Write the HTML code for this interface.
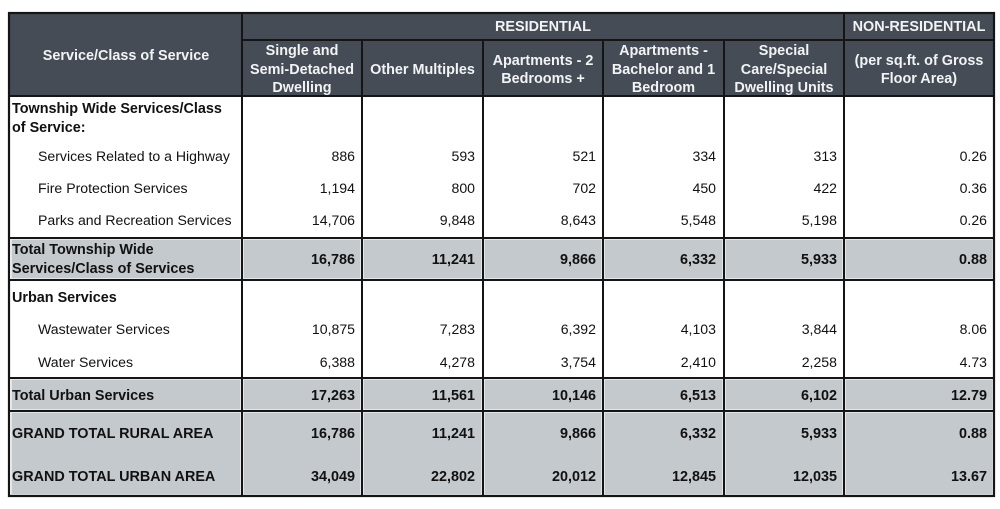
<!DOCTYPE html>
<html><head><meta charset="utf-8">
<style>
html,body{margin:0;padding:0;background:#fff;}
svg{display:block;}
text{font-family:"Liberation Sans",Arial,sans-serif;font-size:14.1px;}
.h{fill:#f2f3f5;font-weight:bold;text-anchor:middle;font-size:14.4px;}
.b{fill:#111;font-weight:bold;font-size:14.4px;}
.n{fill:#111;text-anchor:end;}
.nb{fill:#111;text-anchor:end;font-weight:bold;font-size:14.4px;}
.t{fill:#111;}
</style></head>
<body>
<svg width="1000" height="509" viewBox="0 0 1000 509" xmlns="http://www.w3.org/2000/svg">
<rect x="0" y="0" width="1000" height="509" fill="#fff"/>
<rect x="9" y="13" width="985" height="83" fill="#454c56"/>
<g fill="#c4c9ce" stroke="#e4e7ea" stroke-width="1">
<rect x="11.5" y="239.5" width="229" height="39"/>
<rect x="243.5" y="239.5" width="117" height="39"/>
<rect x="363.5" y="239.5" width="118" height="39"/>
<rect x="484.5" y="239.5" width="117" height="39"/>
<rect x="604.5" y="239.5" width="118" height="39"/>
<rect x="725.5" y="239.5" width="117" height="39"/>
<rect x="845.5" y="239.5" width="147" height="39"/>

<rect x="11.5" y="379.5" width="229" height="30"/>
<rect x="243.5" y="379.5" width="117" height="30"/>
<rect x="363.5" y="379.5" width="118" height="30"/>
<rect x="484.5" y="379.5" width="117" height="30"/>
<rect x="604.5" y="379.5" width="118" height="30"/>
<rect x="725.5" y="379.5" width="117" height="30"/>
<rect x="845.5" y="379.5" width="147" height="30"/>

<rect x="11.5" y="412.5" width="229" height="82"/>
<rect x="243.5" y="412.5" width="117" height="82"/>
<rect x="363.5" y="412.5" width="118" height="82"/>
<rect x="484.5" y="412.5" width="117" height="82"/>
<rect x="604.5" y="412.5" width="118" height="82"/>
<rect x="725.5" y="412.5" width="117" height="82"/>
<rect x="845.5" y="412.5" width="147" height="82"/>
</g>
<g stroke="#151515" stroke-width="2" fill="none">
<rect x="9" y="13" width="985" height="483" stroke-width="2.2"/>
<line x1="242" y1="40" x2="994" y2="40"/>
<line x1="9" y1="96" x2="994" y2="96"/>
<line x1="9" y1="238" x2="994" y2="238"/>
<line x1="9" y1="280" x2="994" y2="280"/>
<line x1="9" y1="378" x2="994" y2="378"/>
<line x1="9" y1="411" x2="994" y2="411"/>
<line x1="242" y1="13" x2="242" y2="496"/>
<line x1="362" y1="40" x2="362" y2="496"/>
<line x1="483" y1="40" x2="483" y2="496"/>
<line x1="603" y1="40" x2="603" y2="496"/>
<line x1="724" y1="40" x2="724" y2="496"/>
<line x1="844" y1="13" x2="844" y2="496"/>
</g>
<text class="h" x="126" y="60">Service/Class of Service</text>
<text class="h" x="543" y="31">RESIDENTIAL</text>
<text class="h" x="919" y="31">NON-RESIDENTIAL</text>
<text class="h" x="302" y="55">Single and</text>
<text class="h" x="302" y="74">Semi-Detached</text>
<text class="h" x="302" y="92">Dwelling</text>
<text class="h" x="422.5" y="74">Other Multiples</text>
<text class="h" x="543" y="65">Apartments - 2</text>
<text class="h" x="543" y="83">Bedrooms +</text>
<text class="h" x="663.5" y="55">Apartments -</text>
<text class="h" x="663.5" y="74">Bachelor and 1</text>
<text class="h" x="663.5" y="92">Bedroom</text>
<text class="h" x="784" y="55">Special</text>
<text class="h" x="784" y="74">Care/Special</text>
<text class="h" x="784" y="92">Dwelling Units</text>
<text class="h" x="919" y="65">(per sq.ft. of Gross</text>
<text class="h" x="919" y="83">Floor Area)</text>

<text class="b" x="12" y="113">Township Wide Services/Class</text>
<text class="b" x="12" y="132">of Service:</text>

<text class="t" x="38" y="161">Services Related to a Highway</text>
<text class="n" x="355" y="161">886</text><text class="n" x="475" y="161">593</text><text class="n" x="596" y="161">521</text><text class="n" x="716" y="161">334</text><text class="n" x="837" y="161">313</text><text class="n" x="987" y="161">0.26</text>

<text class="t" x="38" y="193">Fire Protection Services</text>
<text class="n" x="355" y="193">1,194</text><text class="n" x="475" y="193">800</text><text class="n" x="596" y="193">702</text><text class="n" x="716" y="193">450</text><text class="n" x="837" y="193">422</text><text class="n" x="987" y="193">0.36</text>

<text class="t" x="38" y="225">Parks and Recreation Services</text>
<text class="n" x="355" y="225">14,706</text><text class="n" x="475" y="225">9,848</text><text class="n" x="596" y="225">8,643</text><text class="n" x="716" y="225">5,548</text><text class="n" x="837" y="225">5,198</text><text class="n" x="987" y="225">0.26</text>

<text class="b" x="12" y="254">Total Township Wide</text>
<text class="b" x="12" y="273">Services/Class of Services</text>
<text class="nb" x="355" y="264">16,786</text><text class="nb" x="475" y="264">11,241</text><text class="nb" x="596" y="264">9,866</text><text class="nb" x="716" y="264">6,332</text><text class="nb" x="837" y="264">5,933</text><text class="nb" x="987" y="264">0.88</text>

<text class="b" x="12" y="302">Urban Services</text>

<text class="t" x="38" y="334">Wastewater Services</text>
<text class="n" x="355" y="334">10,875</text><text class="n" x="475" y="334">7,283</text><text class="n" x="596" y="334">6,392</text><text class="n" x="716" y="334">4,103</text><text class="n" x="837" y="334">3,844</text><text class="n" x="987" y="334">8.06</text>

<text class="t" x="38" y="367">Water Services</text>
<text class="n" x="355" y="367">6,388</text><text class="n" x="475" y="367">4,278</text><text class="n" x="596" y="367">3,754</text><text class="n" x="716" y="367">2,410</text><text class="n" x="837" y="367">2,258</text><text class="n" x="987" y="367">4.73</text>

<text class="b" x="12" y="400">Total Urban Services</text>
<text class="nb" x="355" y="400">17,263</text><text class="nb" x="475" y="400">11,561</text><text class="nb" x="596" y="400">10,146</text><text class="nb" x="716" y="400">6,513</text><text class="nb" x="837" y="400">6,102</text><text class="nb" x="987" y="400">12.79</text>

<text class="b" x="12" y="438">GRAND TOTAL RURAL AREA</text>
<text class="nb" x="355" y="438">16,786</text><text class="nb" x="475" y="438">11,241</text><text class="nb" x="596" y="438">9,866</text><text class="nb" x="716" y="438">6,332</text><text class="nb" x="837" y="438">5,933</text><text class="nb" x="987" y="438">0.88</text>

<text class="b" x="12" y="481">GRAND TOTAL URBAN AREA</text>
<text class="nb" x="355" y="481">34,049</text><text class="nb" x="475" y="481">22,802</text><text class="nb" x="596" y="481">20,012</text><text class="nb" x="716" y="481">12,845</text><text class="nb" x="837" y="481">12,035</text><text class="nb" x="987" y="481">13.67</text>
</svg>
</body></html>
